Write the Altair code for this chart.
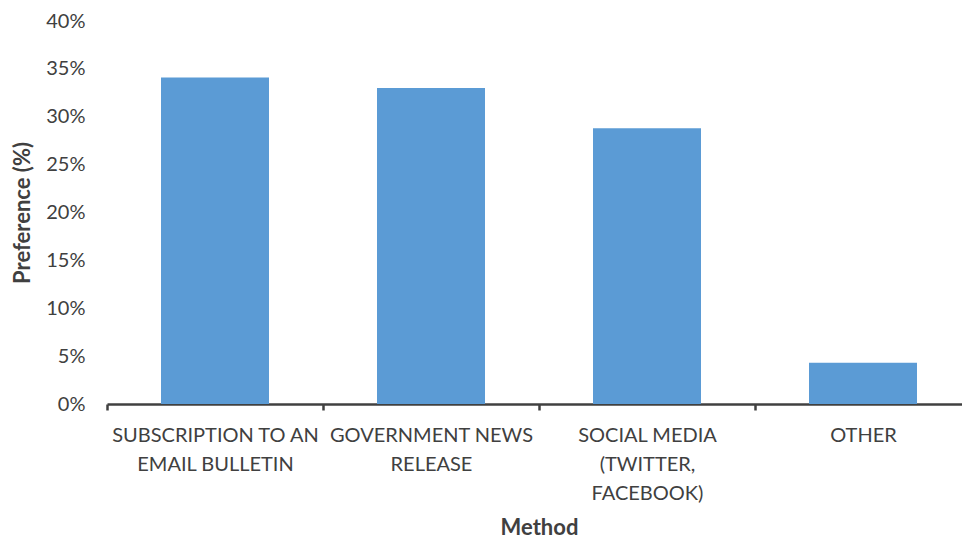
import altair as alt
import pandas as pd

methods = ["SUBSCRIPTION TO AN|EMAIL BULLETIN", "GOVERNMENT NEWS|RELEASE",
           "SOCIAL MEDIA|(TWITTER,|FACEBOOK)", "OTHER"]
preference = [0.341, 0.330, 0.288, 0.043]
y_ticks = [0, 0.05, 0.10, 0.15, 0.20, 0.25, 0.30, 0.35, 0.40]

df = pd.DataFrame({"Method": methods, "Preference": preference})

FONT = "Lato"
TXT = "#404040"

chart = alt.Chart(df).mark_bar(color="#5B9BD5", width=alt.RelativeBandSize(0.5)).encode(
    x=alt.X("Method:N", sort=methods,
            scale=alt.Scale(paddingInner=0, paddingOuter=0, range=[0, 864]),
            axis=alt.Axis(title="Method", labelAngle=0, tickBand="extent",
                          labelExpr="split(datum.label, '|')", labelLimit=0,
                          labelFont=FONT, labelFontSize=20, labelColor=TXT,
                          labelLineHeight=29, labelPadding=15, labelBaseline="top",
                          domainColor=TXT, domainWidth=2.5, tickColor=TXT,
                          tickWidth=2.5, tickSize=6,
                          titleFont=FONT, titleFontSize=22, titleFontWeight="bold",
                          titleColor=TXT, titleY=123, titleBaseline="middle",
                          titleX=432)),
    y=alt.Y("Preference:Q", scale=alt.Scale(domain=[0, 0.4], nice=False),
            axis=alt.Axis(title="Preference (%)", format=".0%", values=y_ticks,
                          grid=False, domain=False, ticks=False,
                          labelFont=FONT, labelFontSize=20, labelColor=TXT,
                          labelPadding=22,
                          titleFont=FONT, titleFontSize=22, titleFontWeight="bold",
                          titleColor=TXT, titleX=-85, titleY=191.5,
                          titleBaseline="middle")),
).properties(
    width=855, height=383,
    background="white",
    autosize=alt.AutoSizeParams(type="none"),
    padding={"left": 107, "top": 21, "right": 0, "bottom": 135},
).configure_view(stroke=None)

chart.save("out.html", embed_options={"renderer": "svg", "actions": False})
